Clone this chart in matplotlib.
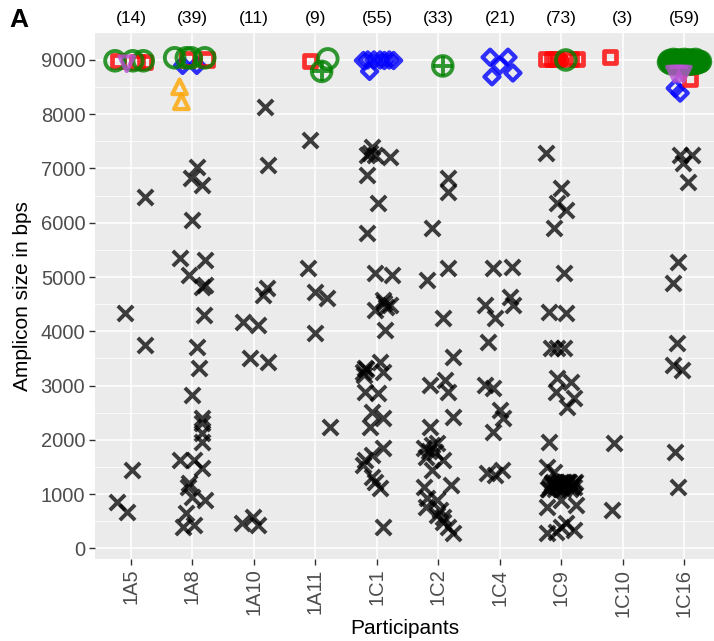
import matplotlib.pyplot as plt
from matplotlib.transforms import blended_transform_factory

plt.rcParams['font.family'] = ['Liberation Sans', 'DejaVu Sans']

participants = ['1A5', '1A8', '1A10', '1A11', '1C1', '1C2', '1C4', '1C9', '1C10', '1C16']
counts = [14, 39, 11, 9, 55, 33, 21, 73, 3, 59]

# black crosses: per participant, amplicon sizes and horizontal jitter
cross_bp = {
    '1A5': [6475, 4336, 3747, 1443, 853, 669],
    '1A8': [7025, 6822, 6700, 6055, 5350, 5312, 5037, 4815, 4850, 4300, 3715, 3320, 2825,
            2400, 2310, 2125, 1960, 1625, 1625, 1475, 1200, 1130, 950, 890, 650, 395, 430],
    '1A10': [8130, 7062, 4800, 4670, 4175, 4120, 3510, 3440, 465, 580, 430],
    '1A11': [7525, 5160, 4720, 4610, 3965, 2235],
    '1C1': [7400, 7250, 7250, 7215, 6880, 6360, 5810, 5070, 5040, 4575, 4490, 4395, 4030,
            3320, 3250, 3440, 3250, 2880, 2860, 2510, 2400, 2235, 1850, 1625, 1535, 1720,
            1225, 1110, 1315, 395, 3300, 3200, 7280, 4520, 4450],
    '1C2': [6822, 6565, 5900, 5160, 4945, 4245, 3530, 3010, 3100, 2880, 2420, 2235, 1850,
            1905, 1940, 1690, 1625, 1440, 1165, 1130, 925, 890, 760, 705, 580, 615, 395,
            285, 485, 1800, 1780],
    '1C4': [5160, 5180, 4490, 4630, 4490, 4245, 3800, 3010, 2950, 2550, 2400, 2145, 1390,
            1350, 1440],
    '1C9': [7280, 6640, 6360, 6235, 5900, 5070, 4355, 4335, 3690, 3690, 3690, 3140, 3070,
            2880, 2770, 2610, 1960, 1500, 1405, 760, 890, 800, 285, 395, 340, 305, 460,
            1100, 1150, 1200, 1230, 1100, 1150, 1200, 1230, 1100, 1150, 1200, 1230, 1100,
            1150, 1200, 1230, 1100, 1150, 1200, 1230, 1130, 1180, 1220, 1130, 1180, 1220],
    '1C10': [1940, 705],
    '1C16': [7250, 7250, 7100, 6750, 5275, 4890, 3780, 3375, 3285, 1775, 1130],
}
cross_jit = {
    '1A5': [0.23, -0.10, 0.23, 0.02, -0.23, -0.07],
    '1A8': [0.08, -0.02, 0.15, 0.0, -0.21, 0.20, -0.05, 0.15, 0.20, 0.18, 0.08, 0.11, 0.0,
            0.15, 0.16, 0.16, 0.16, -0.21, 0.03, 0.15, -0.05, -0.08, 0.0, 0.20, -0.10, -0.16, 0.03],
    '1A10': [0.18, 0.23, 0.21, 0.15, -0.18, 0.07, -0.07, 0.23, -0.20, -0.02, 0.07],
    '1A11': [-0.09, -0.12, 0.0, 0.19, 0.0, 0.23],
    '1C1': [-0.08, -0.16, -0.03, 0.21, -0.16, 0.02, -0.16, -0.03, 0.24, 0.10, 0.21, -0.03, 0.13,
            -0.20, -0.23, 0.05, 0.10, -0.20, 0.02, -0.08, 0.10, -0.11, 0.10, -0.20, -0.23, -0.08,
            -0.03, 0.05, -0.08, 0.10, -0.18, -0.21, -0.12, 0.12, 0.15],
    '1C2': [0.15, 0.16, -0.10, 0.15, -0.18, 0.07, 0.23, -0.13, 0.11, 0.15, 0.23, -0.13, -0.24,
            -0.10, -0.02, -0.21, 0.07, -0.10, 0.20, -0.24, -0.18, -0.02, -0.21, 0.03, 0.08, -0.02,
            0.15, 0.24, 0.07, -0.15, -0.05],
    '1C4': [-0.11, 0.20, -0.24, 0.16, 0.21, -0.08, -0.20, -0.24, -0.11, 0.0, 0.05, -0.11, -0.21,
            -0.08, 0.03],
    '1C9': [-0.25, 0.0, -0.07, 0.07, -0.12, 0.04, -0.20, 0.07, -0.17, -0.07, 0.04, -0.07, 0.15,
            -0.09, 0.20, 0.09, -0.20, -0.24, -0.12, -0.24, 0.0, 0.24, -0.24, 0.0, 0.20, -0.09, 0.07,
            -0.22, -0.19, -0.16, -0.13, -0.10, -0.07, -0.04, -0.01, 0.02, 0.05, 0.08, 0.11, 0.14,
            0.17, 0.20, 0.22, -0.21, -0.11, 0.0, 0.12, 0.21, -0.15, 0.04, 0.16, -0.06, 0.09],
    '1C10': [-0.15, -0.18],
    '1C16': [-0.07, 0.12, -0.02, 0.06, -0.11, -0.19, -0.12, -0.19, -0.04, -0.15, -0.11],
}

# coloured open symbols near the top: (participant, jitter, bp)
square_pts = [('1A5', -0.21, 8985), ('1A5', 0.10, 8960), ('1A5', 0.23, 8960),
              ('1A8', -0.08, 9010), ('1A8', 0.23, 9010), ('1A11', -0.09, 8985),
              ('1C9', -0.25, 9020), ('1C9', -0.15, 9020), ('1C9', -0.09, 9020),
              ('1C9', 0.15, 9020), ('1C9', 0.25, 9020), ('1C10', -0.21, 9055),
              ('1C16', 0.09, 8650)]
circle_pts = [('1A5', -0.26, 8985), ('1A5', 0.03, 8985), ('1A5', 0.20, 8985),
              ('1A8', -0.29, 9040), ('1A8', -0.10, 9040), ('1A8', -0.02, 9040), ('1A8', 0.20, 9040),
              ('1A11', 0.20, 9020), ('1C9', 0.07, 9000),
              ('1C16', -0.26, 8960), ('1C16', -0.24, 8990), ('1C16', -0.22, 8930), ('1C16', -0.20, 8970),
              ('1C16', -0.18, 9010), ('1C16', -0.16, 8940), ('1C16', -0.14, 8980), ('1C16', -0.12, 8920),
              ('1C16', -0.10, 9000), ('1C16', -0.08, 8950), ('1C16', -0.06, 8990), ('1C16', -0.04, 8930),
              ('1C16', -0.02, 8970), ('1C16', 0.0, 9010), ('1C16', 0.02, 8940), ('1C16', 0.04, 8980),
              ('1C16', 0.06, 8920), ('1C16', 0.08, 9000), ('1C16', 0.10, 8950), ('1C16', 0.12, 8990),
              ('1C16', 0.14, 8930), ('1C16', 0.16, 8970), ('1C16', 0.18, 9010), ('1C16', 0.20, 8940),
              ('1C16', 0.22, 8980), ('1C16', 0.24, 8960), ('1C16', 0.26, 8970)]
crossed_circle_pts = [('1A11', 0.10, 8790), ('1C2', 0.07, 8890)]
diamond_pts = [('1A8', -0.16, 8900), ('1A8', 0.07, 8900),
               ('1C1', -0.22, 8990), ('1C1', -0.15, 9000), ('1C1', -0.12, 8790), ('1C1', -0.05, 9000),
               ('1C1', 0.05, 9000), ('1C1', 0.12, 8990), ('1C1', 0.20, 9000), ('1C1', 0.27, 8990),
               ('1C4', -0.16, 9050), ('1C4', 0.13, 9050), ('1C4', 0.0, 8900), ('1C4', -0.13, 8690),
               ('1C4', 0.21, 8760), ('1C16', -0.15, 8480), ('1C16', -0.07, 8390)]
tri_up_pts = [('1A8', -0.21, 8505), ('1A8', -0.18, 8230)]
tri_down_pts = [('1A5', -0.07, 8930), ('1C16', -0.16, 8740), ('1C16', -0.09, 8740), ('1C16', -0.02, 8740)]
dot_pts = [('1C9', 0.0, 9000)]

pos = {p: i for i, p in enumerate(participants)}


def xy(pts):
    return [pos[p] + j for p, j, v in pts], [v for p, j, v in pts]


fig = plt.figure(figsize=(7.14, 6.41), dpi=100)
ax = fig.add_axes([95 / 714, (641 - 559) / 641, 1 - 95 / 714, (559 - 33) / 641])
ax.set_facecolor('#EBEBEB')
for s in ax.spines.values():
    s.set_visible(False)

for p in participants:
    xs = [pos[p] + j for j in cross_jit[p]]
    ax.scatter(xs, cross_bp[p], marker='x', s=120, linewidths=2.8, color='black', alpha=0.75, zorder=3)

x, y = xy(diamond_pts)
ax.scatter(x, y, marker='D', s=60, facecolors='none', edgecolors='blue', linewidths=3, alpha=0.8, zorder=4)
x, y = xy(square_pts)
ax.scatter(x, y, marker='s', s=80, facecolors='none', edgecolors='red', linewidths=3.4, alpha=0.8, zorder=4)
x, y = xy(dot_pts)
ax.scatter(x, y, marker='o', s=110, color='red', alpha=0.9, zorder=4)
x, y = xy(circle_pts)
ax.scatter(x, y, marker='o', s=200, facecolors='none', edgecolors='green', linewidths=2.8, alpha=0.8, zorder=5)
x, y = xy(crossed_circle_pts)
ax.scatter(x, y, marker='o', s=200, facecolors='none', edgecolors='green', linewidths=2.8, alpha=0.8, zorder=5)
ax.scatter(x, y, marker='+', s=200, color='green', linewidths=2.8, alpha=0.8, zorder=5)
x, y = xy(tri_up_pts)
ax.scatter(x, y, marker='^', s=110, facecolors='none', edgecolors='orange', linewidths=3, alpha=0.8, zorder=6)
x, y = xy(tri_down_pts)
ax.scatter(x, y, marker='v', s=110, facecolors='none', edgecolors='mediumorchid', linewidths=3, alpha=0.8, zorder=6)

ax.set_xlim(-0.585, 9.48)
ax.set_ylim(-197, 9497)
ax.set_xticks(range(len(participants)))
ax.set_xticklabels(participants, rotation=90)
ax.set_yticks(range(0, 9001, 1000))
ax.set_yticks(range(500, 9500, 1000), minor=True)
ax.grid(True, which='major', color='white', linewidth=1.1, zorder=0)
ax.grid(True, which='minor', axis='y', color='white', linewidth=0.55, zorder=0)
ax.set_axisbelow(True)
ax.tick_params(axis='both', which='major', length=4, width=1, color='#333333',
               labelsize=14.5, labelcolor='#4D4D4D', pad=3)
ax.tick_params(axis='y', which='minor', length=0)

ax.set_xlabel('Participants', fontsize=15, labelpad=2)
ax.set_ylabel('Amplicon size in bps', fontsize=15, labelpad=6)

tr = blended_transform_factory(ax.transData, ax.transAxes)
for i, c in enumerate(counts):
    ax.text(i, 1.027, f'({c})', transform=tr, ha='center', va='center', fontsize=12.5)

fig.text(0.013, 0.969, 'A', fontsize=19, fontweight='bold', ha='left', va='center')

fig.savefig('out.png', dpi=100)
